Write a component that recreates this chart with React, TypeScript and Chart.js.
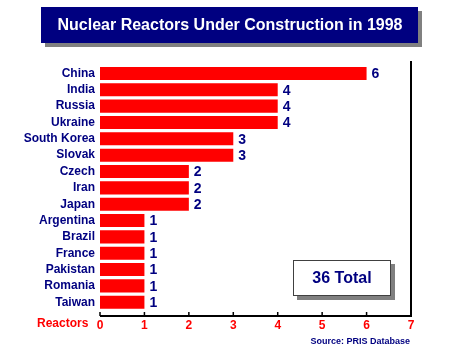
import React, { useEffect, useRef } from "react";
import { Chart, registerables } from "chart.js";

Chart.register(...registerables);

const countries = [
  "China", "India", "Russia", "Ukraine", "South Korea", "Slovak", "Czech",
  "Iran", "Japan", "Argentina", "Brazil", "France", "Pakistan", "Romania", "Taiwan",
];
const reactors = [6, 4, 4, 4, 3, 3, 2, 2, 2, 1, 1, 1, 1, 1, 1];
const xTicks = [0, 1, 2, 3, 4, 5, 6, 7];
const titleText = "Nuclear Reactors Under Construction in 1998";
const totalText = "36 Total";
const axisTitle = "Reactors";
const sourceText = "Source: PRIS Database";

const NAVY = "#000080";
const RED = "#ff0000";
const FONT = "Liberation Sans, Arial, sans-serif";

const decorPlugin = {
  id: "decor",
  afterDraw(chart: any) {
    const ctx = chart.ctx;
    const xs = chart.scales.x;
    ctx.save();
    // title box
    ctx.fillStyle = "#808080";
    ctx.fillRect(45, 11, 377, 36);
    ctx.fillStyle = NAVY;
    ctx.fillRect(41, 7, 377, 36);
    ctx.fillStyle = "#ffffff";
    ctx.font = `bold 16px ${FONT}`;
    ctx.textAlign = "center";
    ctx.textBaseline = "middle";
    ctx.fillText(titleText, 230, 26);

    // axis lines
    const axisY = 316;
    const right = xs.getPixelForValue(7);
    ctx.strokeStyle = "#000000";
    ctx.lineWidth = 2;
    ctx.beginPath();
    ctx.moveTo(xs.getPixelForValue(0), axisY);
    ctx.lineTo(right + 1, axisY);
    ctx.moveTo(right, 61);
    ctx.lineTo(right, axisY);
    ctx.stroke();
    ctx.lineWidth = 1.5;
    ctx.beginPath();
    xTicks.forEach((t) => {
      const px = xs.getPixelForValue(t);
      ctx.moveTo(px, axisY - 4);
      ctx.lineTo(px, axisY);
    });
    ctx.stroke();

    // value labels
    const meta = chart.getDatasetMeta(0);
    ctx.fillStyle = NAVY;
    ctx.font = `bold 14px ${FONT}`;
    ctx.textAlign = "left";
    ctx.textBaseline = "middle";
    meta.data.forEach((bar: any, i: number) => {
      ctx.fillText(String(reactors[i]), bar.x + 5, bar.y + 1);
    });

    // axis title
    ctx.fillStyle = RED;
    ctx.font = `bold 12px ${FONT}`;
    ctx.textAlign = "left";
    ctx.fillText(axisTitle, 37, 324);

    // total box
    ctx.fillStyle = "#808080";
    ctx.fillRect(297, 264, 98, 36);
    ctx.fillStyle = "#ffffff";
    ctx.fillRect(293, 260, 98, 36);
    ctx.strokeStyle = "#404040";
    ctx.lineWidth = 1;
    ctx.strokeRect(293.5, 260.5, 97, 35);
    ctx.fillStyle = NAVY;
    ctx.font = `bold 16px ${FONT}`;
    ctx.textAlign = "center";
    ctx.fillText(totalText, 342, 279);

    // source
    ctx.font = `bold 9px ${FONT}`;
    ctx.textAlign = "right";
    ctx.fillText(sourceText, 410, 342);
    ctx.restore();
  },
};

export default function App() {
  const ref = useRef<HTMLCanvasElement>(null);
  useEffect(() => {
    if (!ref.current) return;
    const chart = new Chart(ref.current, {
      type: "bar",
      data: {
        labels: countries,
        datasets: [
          {
            data: reactors,
            backgroundColor: RED,
            borderColor: "#ffe0e0",
            borderWidth: 0,
            barPercentage: 0.8,
            categoryPercentage: 1,
          },
        ],
      },
      options: {
        indexAxis: "y",
        responsive: false,
        animation: false,
        layout: { padding: { top: 65.3, right: 46, left: 0, bottom: 0 } },
        plugins: {
          legend: { display: false },
          tooltip: { enabled: false },
          title: { display: false },
        },
        scales: {
          x: {
            type: "linear",
            min: 0,
            max: 7,
            grid: { display: false, drawTicks: false },
            border: { display: false },
            ticks: {
              stepSize: 1,
              padding: 8,
              color: RED,
              font: { family: FONT, size: 12, weight: "bold" },
            },
            afterFit: (s: any) => {
              s.height = 44.6;
            },
          },
          y: {
            grid: { display: false, drawTicks: false },
            border: { display: false },
            ticks: {
              autoSkip: false,
              padding: 5,
              color: NAVY,
              font: { family: FONT, size: 12, weight: "bold" },
            },
            afterFit: (s: any) => {
              s.width = 100;
            },
          },
        },
      },
      plugins: [decorPlugin],
    } as any);
    return () => chart.destroy();
  }, []);
  return (
    <div style={{ position: "fixed", left: 0, top: 0, width: 457, height: 355, background: "#fff" }}>
      <canvas ref={ref} width={457} height={355} />
    </div>
  );
}
